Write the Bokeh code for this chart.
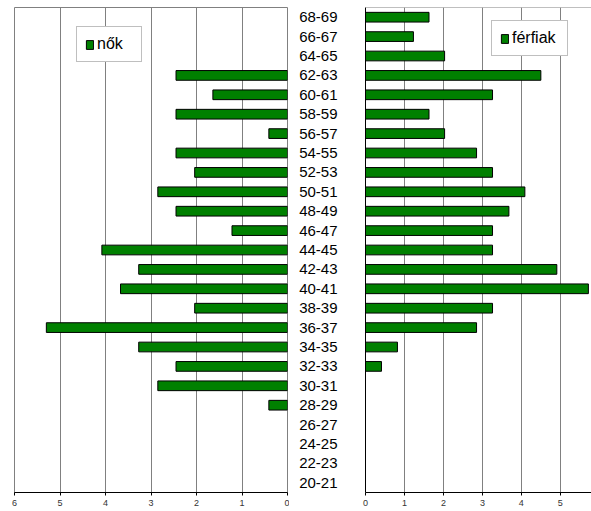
from bokeh.plotting import figure
from bokeh.layouts import row
from bokeh.models import Range1d, FactorRange, FixedTicker, Span, ColumnDataSource
from bokeh.embed import file_html
from bokeh.resources import INLINE

# age groups, bottom to top
ages = ["20-21", "22-23", "24-25", "26-27", "28-29", "30-31", "32-33", "34-35",
        "36-37", "38-39", "40-41", "42-43", "44-45", "46-47", "48-49", "50-51",
        "52-53", "54-55", "56-57", "58-59", "60-61", "62-63", "64-65", "66-67", "68-69"]
nok = [0, 0, 0, 0, 0.41, 2.85, 2.45, 3.27, 5.30, 2.04, 3.67, 3.27, 4.08, 1.22,
       2.45, 2.85, 2.04, 2.45, 0.41, 2.45, 1.64, 2.45, 0, 0, 0]
ferfiak = [0, 0, 0, 0, 0, 0, 0.41, 0.82, 2.85, 3.26, 5.72, 4.91, 3.26, 3.26,
           3.68, 4.09, 3.26, 2.85, 2.03, 1.63, 3.26, 4.50, 2.03, 1.23, 1.63]
left_ticks = [0, 1, 2, 3, 4, 5, 6]
right_ticks = [0, 1, 2, 3, 4, 5]

FONT = "Liberation Sans"
GREEN = "#008000"
GRID = "#808080"

def nonzero(vals):
    ys = [a for a, v in zip(ages, vals) if v > 0]
    xs = [v for v in vals if v > 0]
    return ColumnDataSource(dict(y=ys, x=xs))

def style(p, ticks):
    p.xaxis.ticker = FixedTicker(ticks=ticks)
    p.xgrid.ticker = FixedTicker(ticks=ticks)
    p.xgrid.grid_line_color = GRID
    p.ygrid.grid_line_color = None
    p.xaxis.axis_line_color = "black"
    p.xaxis.major_tick_line_color = "black"
    p.xaxis.major_tick_out = 3
    p.xaxis.major_tick_in = 0
    p.xaxis.minor_tick_line_color = None
    p.xaxis.major_label_text_font = FONT
    p.xaxis.major_label_text_font_size = "9px"
    p.xaxis.major_label_text_color = "#333333"
    p.xaxis.major_label_standoff = 4
    p.background_fill_color = "white"
    p.border_fill_color = "white"

# left: women
pl = figure(width=289, height=511, output_backend="svg", toolbar_location=None,
            x_range=Range1d(6, 0), y_range=FactorRange(*ages),
            min_border_left=14, min_border_right=2, min_border_top=7, min_border_bottom=19)
pl.hbar(y="y", left=0, right="x", height=0.5, source=nonzero(nok),
        fill_color=GREEN, line_color="black", line_width=1, legend_label="nők")
style(pl, left_ticks)
pl.yaxis.visible = False
pl.outline_line_color = GRID
pl.outline_line_width = 1

# right: men
pr = figure(width=302, height=511, output_backend="svg", toolbar_location=None,
            x_range=Range1d(0, 5.80), y_range=FactorRange(*ages),
            min_border_left=76, min_border_right=0, min_border_top=7, min_border_bottom=19)
pr.hbar(y="y", left=0, right="x", height=0.5, source=nonzero(ferfiak),
        fill_color=GREEN, line_color="black", line_width=1, legend_label="férfiak")
style(pr, right_ticks)
pr.outline_line_color = None
pr.add_layout(Span(location=len(ages), dimension="width", line_color=GRID, line_width=1))
pr.yaxis.axis_line_color = "black"
pr.yaxis.major_tick_line_color = None
pr.yaxis.minor_tick_line_color = None
pr.yaxis.major_label_standoff = 22
pr.yaxis.major_label_text_font = FONT
pr.yaxis.major_label_text_font_size = "15px"
pr.yaxis.major_label_text_color = "black"

for p, loc, lw in ((pl, (62, 430), 36), (pr, (126, 436), 47)):
    lg = p.legend[0]
    lg.location = loc
    lg.border_line_color = GRID
    lg.border_line_width = 1
    lg.background_fill_color = "white"
    lg.background_fill_alpha = 1
    lg.padding = 8
    lg.margin = 0
    lg.glyph_width = 9
    lg.glyph_height = 11
    lg.label_standoff = 3
    lg.label_width = lw
    lg.label_text_font = FONT
    lg.label_text_font_size = "16px"
    lg.label_text_color = "black"

layout = row(pl, pr)
open("out.html", "w").write(file_html(layout, INLINE))
